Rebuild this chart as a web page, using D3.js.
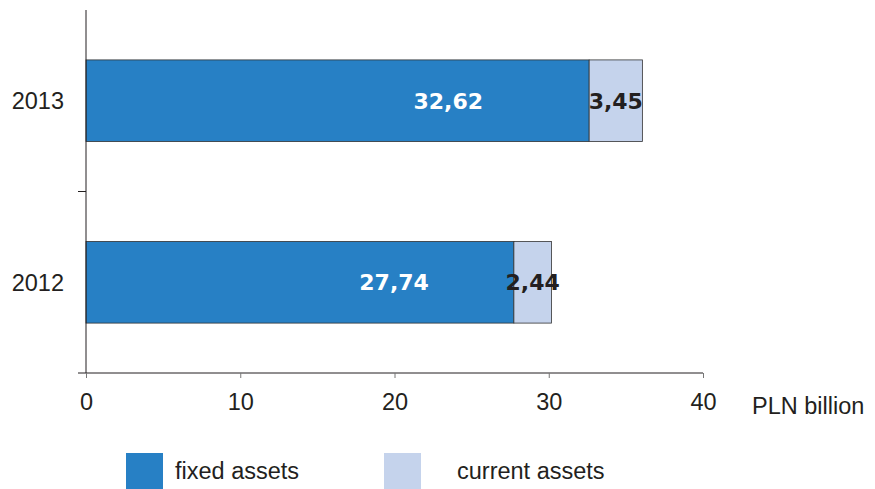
<!DOCTYPE html>
<html>
<head>
<meta charset="utf-8">
<script src="https://cdn.jsdelivr.net/npm/d3@7"></script>
<style>
  body { margin: 0; background: #fff; }
  text { font-family: "Liberation Sans", Arial, sans-serif; }
</style>
</head>
<body>
<svg id="chart" width="875" height="489"></svg>
<script>
const years = ['2013', '2012'];
const fixedAssets = [32.62, 27.74];
const currentAssets = [3.45, 2.44];
const xTicks = [0, 10, 20, 30, 40];
const unitLabel = 'PLN billion';
const seriesNames = ['fixed assets', 'current assets'];
const colors = ['#2780c5', '#c5d3ec'];

const fmt = v => v.toFixed(2).replace('.', ',');

const rows = years.map((y, i) => ({ year: y, fixed: fixedAssets[i], current: currentAssets[i] }));

const svg = d3.select('#chart');
const plotLeft = 86, plotRight = 703, plotTop = 10, plotBottom = 373;
const fontSize = '23.5px';

const x = d3.scaleLinear().domain([0, 40]).range([plotLeft, plotRight]);
const y = d3.scaleBand().domain(years).range([plotTop, plotBottom]).paddingInner(0.55).paddingOuter(0.275);
const yOuter = d3.scaleBand().domain(years).range([plotTop, plotBottom]);

// bars
const g = svg.append('g');
g.selectAll('rect.fixed').data(rows).enter().append('rect')
  .attr('class', 'fixed')
  .attr('x', x(0))
  .attr('y', d => y(d.year))
  .attr('width', d => x(d.fixed) - x(0))
  .attr('height', y.bandwidth())
  .attr('fill', colors[0])
  .attr('stroke', '#333')
  .attr('stroke-width', 0.8);

g.selectAll('rect.current').data(rows).enter().append('rect')
  .attr('class', 'current')
  .attr('x', d => x(d.fixed))
  .attr('y', d => y(d.year))
  .attr('width', d => x(d.fixed + d.current) - x(d.fixed))
  .attr('height', y.bandwidth())
  .attr('fill', colors[1])
  .attr('stroke', '#333')
  .attr('stroke-width', 0.8);

// value labels
g.selectAll('text.fixedLabel').data(rows).enter().append('text')
  .attr('x', d => x(d.fixed * 0.72))
  .attr('y', d => y(d.year) + y.bandwidth() / 2)
  .attr('dy', '0.36em')
  .attr('text-anchor', 'middle')
  .attr('fill', '#fff')
  .style('font-family', '"DejaVu Sans", sans-serif')
  .style('font-weight', 'bold')
  .style('font-size', '22px')
  .text(d => fmt(d.fixed));

g.selectAll('text.currentLabel').data(rows).enter().append('text')
  .attr('x', d => x(d.fixed + d.current / 2))
  .attr('y', d => y(d.year) + y.bandwidth() / 2)
  .attr('dy', '0.36em')
  .attr('text-anchor', 'middle')
  .attr('fill', '#231f20')
  .style('font-family', '"DejaVu Sans", sans-serif')
  .style('font-weight', 'bold')
  .style('font-size', '22px')
  .text(d => fmt(d.current));

// x axis
const xAxis = svg.append('g')
  .attr('transform', 'translate(0,' + plotBottom + ')')
  .call(d3.axisBottom(x).tickValues(xTicks).tickSize(5).tickSizeOuter(0).tickPadding(15).tickFormat(d3.format('d')));
xAxis.select('.domain').attr('d', 'M' + (plotLeft - 8) + ',0H' + plotRight).attr('stroke', '#231f20');
xAxis.selectAll('.tick line').attr('stroke', '#777');
xAxis.selectAll('.tick text').style('font-size', fontSize).style('font-family', '"Liberation Sans", Arial, sans-serif').attr('fill', '#231f20');

svg.append('text')
  .attr('x', 752)
  .attr('y', plotBottom + 41)
  .style('font-size', fontSize)
  .attr('fill', '#231f20')
  .text(unitLabel);

// y axis
svg.append('line')
  .attr('x1', plotLeft).attr('x2', plotLeft)
  .attr('y1', plotTop).attr('y2', plotBottom)
  .attr('stroke', '#231f20');
svg.append('line')
  .attr('x1', plotLeft - 8).attr('x2', plotLeft)
  .attr('y1', yOuter(years[1])).attr('y2', yOuter(years[1]))
  .attr('stroke', '#231f20');

svg.selectAll('text.year').data(years).enter().append('text')
  .attr('x', plotLeft - 22)
  .attr('y', d => y(d) + y.bandwidth() / 2)
  .attr('dy', '0.36em')
  .attr('text-anchor', 'end')
  .style('font-size', fontSize)
  .attr('fill', '#231f20')
  .text(d => d);

// legend
const legendX = [126, 384];
const legend = svg.selectAll('g.legend').data(seriesNames).enter().append('g')
  .attr('transform', (d, i) => 'translate(' + legendX[i] + ',453)');
legend.append('rect')
  .attr('width', 37).attr('height', 36)
  .attr('fill', (d, i) => colors[i]);
legend.append('text')
  .attr('x', (d, i) => i === 0 ? 49 : 73)
  .attr('y', 26)
  .style('font-size', fontSize)
  .attr('fill', '#231f20')
  .text(d => d);
</script>
</body>
</html>
